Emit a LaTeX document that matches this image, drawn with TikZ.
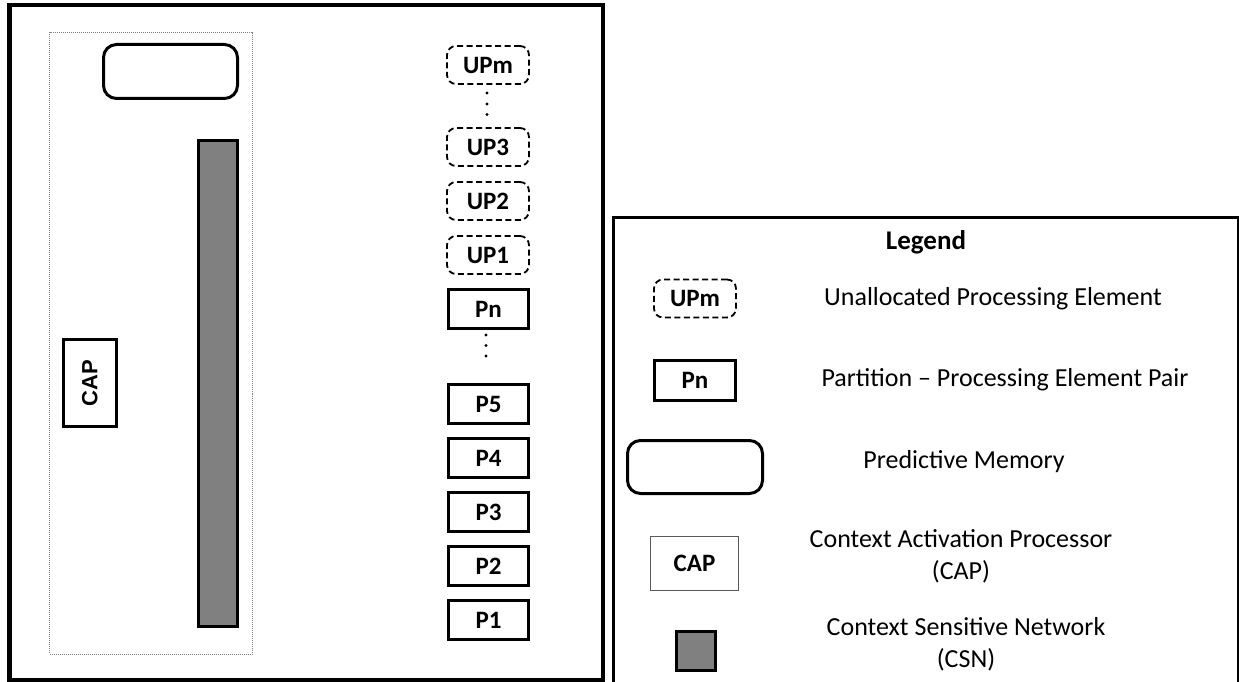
\documentclass[tikz,border=0pt]{standalone}
\usepackage{fontspec}
\setmainfont{Carlito}
\newfontfamily\capfont{Liberation Sans}
\begin{document}
\begin{tikzpicture}[x=1pt,y=-1pt,
  upbox/.style={draw, dash pattern=on 6pt off 3.5pt, rounded corners=9pt, line width=1.8pt,
    minimum width=82pt, minimum height=38pt, inner sep=0pt, font=\bfseries\fontsize{25}{30}\selectfont},
  pbox/.style={draw, line width=3pt, minimum width=80pt, minimum height=39pt, inner sep=0pt,
    font=\bfseries\fontsize{25}{30}\selectfont},
  membox/.style={draw, line width=3pt, rounded corners=13pt, minimum width=134pt, minimum height=54pt, inner sep=0pt},
  csnbox/.style={draw, line width=3pt, fill=gray!100!white, fill={rgb,255:red,128;green,128;blue,128}, inner sep=0pt},
  desc/.style={font=\fontsize{26}{32}\selectfont, align=center},
  vdot/.style={fill=black}
]
\useasboundingbox (0,0) rectangle (1239,682);
% main frame
\draw[line width=4.5pt] (9.5,5) rectangle (603,680);
% dotted inner region
\draw[gray, line width=0.9pt, dash pattern=on 1pt off 1pt] (49.5,32) rectangle (252,654);
% predictive memory
\node[membox] (pm) at (170.5,71.5) {};
% CSN bar
\node[csnbox, minimum width=39pt, minimum height=486pt] (csn) at (218,383.5) {};
% CAP
\node[draw, line width=3pt, minimum width=52.5pt, minimum height=87pt, inner sep=0pt] (cap) at (89.75,383) {};
\node[rotate=90, font=\capfont\bfseries\fontsize{22}{26}\selectfont] (captext) at (cap.center) {CAP};
% UP boxes
\node[upbox] (upm) at (488,65) {UPm};
\node[upbox] (up3) at (488,147) {UP3};
\node[upbox] (up2) at (488,201) {UP2};
\node[upbox] (up1) at (488,255) {UP1};
\fill[vdot] (487,93) circle (1.6) (487,104) circle (1.6) (487,114.5) circle (1.6);
% P boxes
\node[pbox] (pn) at (488.5,309) {Pn};
\node[pbox] (p5) at (488.5,404) {P5};
\node[pbox] (p4) at (488.5,458) {P4};
\node[pbox] (p3) at (488.5,512) {P3};
\node[pbox] (p2) at (488.5,566) {P2};
\node[pbox] (p1) at (488.5,620) {P1};
\fill[vdot] (486,335) circle (1.6) (486,345.5) circle (1.6) (486,356) circle (1.6);
% legend frame
\begin{scope}
\clip (0,0) rectangle (1239,682);
\draw[line width=2.5pt] (613.5,690) -- (613.5,217.5) -- (1238,217.5) -- (1238,690);
\end{scope}
\node[font=\bfseries\fontsize{27}{32}\selectfont] (legtitle) at (926,242) {Legend};
\node[upbox] (lupm) at (695,298.5) {UPm};
\node[desc] (dupm) at (993,299) {Unallocated Processing Element};
\node[pbox, minimum width=81pt, minimum height=40pt] (lpn) at (695,380.5) {Pn};
\node[desc] (dpn) at (1005,380) {Partition – Processing Element Pair};
\node[membox, minimum width=135pt, minimum height=53pt] (lpm) at (695,467) {};
\node[desc] (dpm) at (964,462) {Predictive Memory};
\node[draw, gray!70!black, line width=1pt, minimum width=88pt, minimum height=54pt, inner sep=0pt,
  text=black, font=\bfseries\fontsize{25}{30}\selectfont] (lcap) at (694.5,563.5) {CAP};
\node[desc] (dcap) at (961,556) {Context Activation Processor\\(CAP)};
\node[csnbox, minimum width=39pt, minimum height=39pt] (lcsn) at (696,651) {};
\node[desc] (dcsn) at (966,644) {Context Sensitive Network\\(CSN)};
\end{tikzpicture}
\end{document}
